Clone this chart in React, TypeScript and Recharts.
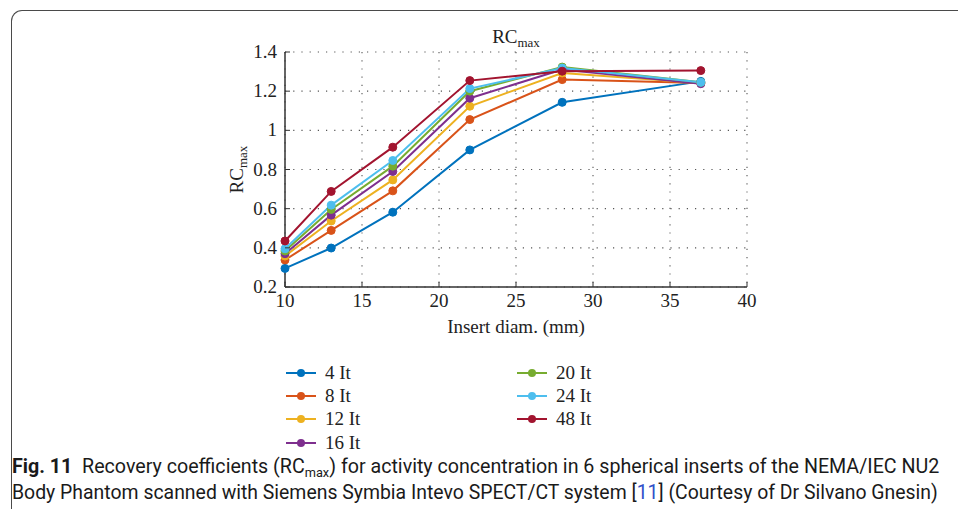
import React, { useLayoutEffect, useRef, useState } from 'react';
import { LineChart, Line, XAxis, YAxis, CartesianGrid, Label } from 'recharts';

const diameters = [10, 13, 17, 22, 28, 37];
const xTicks = [10, 15, 20, 25, 30, 35, 40];
const yTicks = [0.2, 0.4, 0.6, 0.8, 1, 1.2, 1.4];

const rc4 = [0.295, 0.399, 0.582, 0.9, 1.143, 1.25];
const rc8 = [0.338, 0.489, 0.691, 1.055, 1.259, 1.242];
const rc12 = [0.358, 0.537, 0.747, 1.123, 1.293, 1.242];
const rc16 = [0.37, 0.567, 0.79, 1.164, 1.31, 1.238];
const rc20 = [0.384, 0.596, 0.817, 1.2, 1.323, 1.245];
const rc24 = [0.395, 0.618, 0.846, 1.213, 1.318, 1.245];
const rc48 = [0.435, 0.688, 0.914, 1.254, 1.302, 1.305];

const seriesNames = ['4 It', '8 It', '12 It', '16 It', '20 It', '24 It', '48 It'];
const seriesValues = [rc4, rc8, rc12, rc16, rc20, rc24, rc48];
const seriesColors = ['#0072BD', '#D95319', '#EDB120', '#7E2F8E', '#77AC30', '#4DBEEE', '#A2142F'];

const data = diameters.map((d, i) => {
  const row: Record<string, number> = { d };
  seriesValues.forEach((vals, k) => {
    row['s' + k] = vals[i];
  });
  return row;
});

const SERIF = '"Liberation Serif", "DejaVu Serif", serif';
const SANS = 'Roboto, "Noto Sans", sans-serif';
const INK = '#222';
const BOX = '#333';
const FS = 19;

const BottomTick = (props: any) => {
  const { x, y, payload } = props;
  return (
    <g>
      <line x1={x} y1={y} x2={x} y2={y - 5} stroke={BOX} strokeWidth={1} />
      <text x={x} y={y + 20} textAnchor="middle" fontFamily={SERIF} fontSize={FS} fill={INK}>
        {payload.value}
      </text>
    </g>
  );
};

const TopTick = (props: any) => {
  const { x, y } = props;
  return <line x1={x} y1={y} x2={x} y2={y + 5} stroke={BOX} strokeWidth={1} />;
};

const LeftTick = (props: any) => {
  const { x, y, payload } = props;
  return (
    <g>
      <line x1={x} y1={y} x2={x + 5} y2={y} stroke={BOX} strokeWidth={1} />
      <text x={x - 8} y={y + 6} textAnchor="end" fontFamily={SERIF} fontSize={FS} fill={INK}>
        {String(payload.value)}
      </text>
    </g>
  );
};

const RightTick = (props: any) => {
  const { x, y } = props;
  return <line x1={x} y1={y} x2={x - 5} y2={y} stroke={BOX} strokeWidth={1} />;
};

const XLabel = (props: any) => {
  const vb = props.viewBox;
  return (
    <text x={vb.x + vb.width / 2} y={vb.y + 46} textAnchor="middle" fontFamily={SERIF} fontSize={FS} fill={INK}>
      Insert diam. (mm)
    </text>
  );
};

const YLabel = (props: any) => {
  const vb = props.viewBox;
  const cx = 243;
  const cy = vb.y + vb.height / 2;
  return (
    <text x={cx} y={cy} transform={`rotate(-90 ${cx} ${cy})`} textAnchor="middle" fontFamily={SERIF} fontSize={FS} fill={INK}>
      <tspan>RC</tspan>
      <tspan fontSize={13} dy={4}>max</tspan>
    </text>
  );
};

const LegendItem = ({ name, color, left, top }: { name: string; color: string; left: number; top: number }) => (
  <div style={{ position: 'absolute', left, top: top - 10, height: 20, display: 'flex', alignItems: 'center' }}>
    <svg width={30} height={20} style={{ display: 'block' }}>
      <line x1={0} y1={10} x2={30} y2={10} stroke={color} strokeWidth={2} />
      <circle cx={15} cy={10} r={4} fill={color} />
    </svg>
    <span style={{ marginLeft: 9, fontFamily: SERIF, fontSize: FS, color: INK, lineHeight: '20px' }}>{name}</span>
  </div>
);

const FitLine = ({ left, top, width, children }: { left: number; top: number; width: number; children: React.ReactNode }) => {
  const ref = useRef<HTMLDivElement>(null);
  const [scale, setScale] = useState(1);
  useLayoutEffect(() => {
    if (ref.current) {
      const w = ref.current.scrollWidth;
      if (w > 0) setScale(width / w);
    }
  }, [width]);
  return (
    <div
      ref={ref}
      style={{
        position: 'absolute',
        left,
        top,
        whiteSpace: 'nowrap',
        display: 'inline-block',
        fontFamily: SANS,
        fontSize: 20,
        lineHeight: '24px',
        color: '#1a1a1a',
        transform: `scaleX(${scale})`,
        transformOrigin: 'left top',
      }}
    >
      {children}
    </div>
  );
};

export default function App() {
  const legendCol1 = [0, 1, 2, 3];
  const legendCol2 = [4, 5, 6];
  return (
    <div style={{ position: 'absolute', left: 0, top: 0, width: 958, height: 509, background: '#fff', overflow: 'hidden' }}>
      <div
        style={{
          position: 'absolute',
          left: 11,
          top: 10,
          right: -20,
          bottom: -20,
          borderTop: '1.4px solid #4a4a4a',
          borderLeft: '1.4px solid #4a4a4a',
          borderTopLeftRadius: 11,
        }}
      />
      <div style={{ position: 'absolute', left: 0, top: 0 }}>
        <LineChart width={958} height={350} data={data} margin={{ top: 52, right: 211, left: 0, bottom: 0 }}>
          <CartesianGrid stroke="#555" strokeWidth={1.1} strokeDasharray="1.2 7" vertical horizontal />
          <XAxis
            dataKey="d"
            type="number"
            domain={[10, 40]}
            ticks={xTicks}
            height={63}
            tickSize={0}
            tickMargin={0}
            tickLine={false}
            axisLine={{ stroke: BOX, strokeWidth: 1.5 }}
            tick={<BottomTick />}
            interval={0}
          >
            <Label content={<XLabel />} />
          </XAxis>
          <XAxis
            xAxisId="t"
            dataKey="d"
            type="number"
            orientation="top"
            domain={[10, 40]}
            ticks={xTicks}
            height={0}
            tickSize={0}
            tickMargin={0}
            tickLine={false}
            axisLine={{ stroke: BOX, strokeWidth: 1.5 }}
            tick={<TopTick />}
            interval={0}
          />
          <YAxis
            type="number"
            domain={[0.2, 1.4]}
            ticks={yTicks}
            width={285}
            tickSize={0}
            tickMargin={0}
            tickLine={false}
            axisLine={{ stroke: BOX, strokeWidth: 1.5 }}
            tick={<LeftTick />}
            interval={0}
          >
            <Label content={<YLabel />} />
          </YAxis>
          <YAxis
            yAxisId="r"
            orientation="right"
            type="number"
            domain={[0.2, 1.4]}
            ticks={yTicks}
            width={0}
            tickSize={0}
            tickMargin={0}
            tickLine={false}
            axisLine={{ stroke: BOX, strokeWidth: 1.5 }}
            tick={<RightTick />}
            interval={0}
          />
          {seriesNames.map((name, k) => (
            <Line
              key={name}
              name={name}
              dataKey={'s' + k}
              stroke={seriesColors[k]}
              strokeWidth={2}
              dot={{ r: 4, fill: seriesColors[k], stroke: seriesColors[k], strokeWidth: 1 }}
              activeDot={false}
              isAnimationActive={false}
            />
          ))}
        </LineChart>
      </div>
      <div
        style={{
          position: 'absolute',
          left: 416,
          width: 200,
          top: 27,
          textAlign: 'center',
          fontFamily: SERIF,
          fontSize: FS,
          color: INK,
          lineHeight: '20px',
        }}
      >
        RC<span style={{ fontSize: 13, position: 'relative', top: 4 }}>max</span>
      </div>
      {legendCol1.map((k, i) => (
        <LegendItem key={k} name={seriesNames[k]} color={seriesColors[k]} left={286} top={373 + i * 23.2} />
      ))}
      {legendCol2.map((k, i) => (
        <LegendItem key={k} name={seriesNames[k]} color={seriesColors[k]} left={517} top={373 + i * 23.2} />
      ))}
      <FitLine left={12} top={454} width={927}>
        <b>Fig. 11</b>
        {'\u00a0\u00a0Recovery coefficients (RC'}
        <span style={{ fontSize: 13, position: 'relative', top: 4 }}>max</span>
        {') for activity concentration in 6 spherical inserts of the NEMA/IEC NU2'}
      </FitLine>
      <FitLine left={12} top={480} width={926}>
        {'Body Phantom scanned with Siemens Symbia Intevo SPECT/CT system ['}
        <span style={{ color: '#2f4fc9' }}>11</span>
        {'] (Courtesy of Dr Silvano Gnesin)'}
      </FitLine>
    </div>
  );
}
